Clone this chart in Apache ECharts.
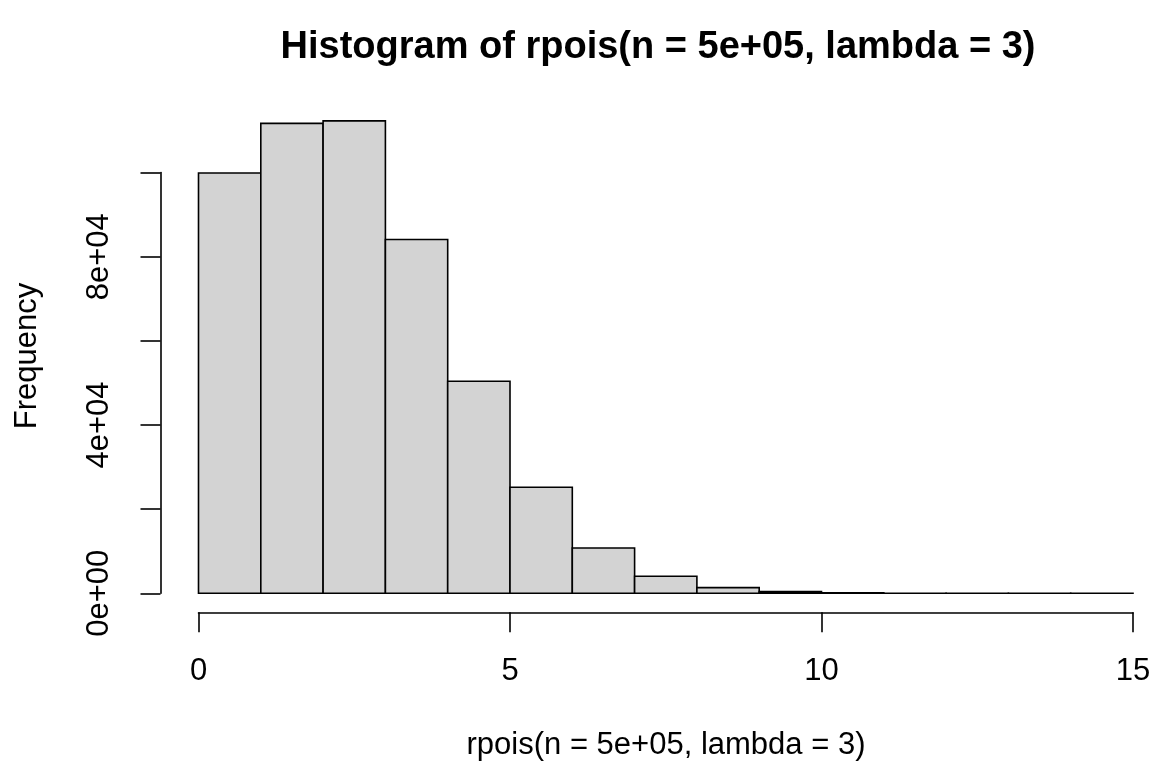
<!DOCTYPE html>
<html>
<head>
<meta charset="utf-8">
<script src="https://cdn.jsdelivr.net/npm/echarts@6/dist/echarts.min.js"></script>
<style>
html,body{margin:0;padding:0;background:#fff;}
#chart{width:1158px;height:767px;}
</style>
</head>
<body>
<div id="chart"></div>
<script>
// Histogram bins (break edges) and counts
var breaks = [0,1,2,3,4,5,6,7,8,9,10,11,12,13,14,15];
var counts = [99900, 111700, 112300, 84100, 50400, 25200, 10750, 4050, 1350, 410, 110, 28, 6, 1, 1];
var xTicks = [0, 5, 10, 15];
var yTickLabels = {0: '0e+00', 40000: '4e+04', 80000: '8e+04'};
var titleText = 'Histogram of rpois(n = 5e+05, lambda = 3)';
var xLabel = 'rpois(n = 5e+05, lambda = 3)';
var yLabel = 'Frequency';

var FONT = '"Liberation Sans", Arial, Helvetica, sans-serif';
var LW = 1.6;

var binData = counts.map(function(c, i){ return [breaks[i], breaks[i+1], c]; });

var chart = echarts.init(document.getElementById('chart'), null, {renderer:'canvas'});
chart.setOption({
  animation: false,
  backgroundColor: '#ffffff',
  grid: {left: 198.5, right: 25, top: 172.6, bottom: 173.7, containLabel: false},
  xAxis: {
    type: 'value', min: 0, max: 15, interval: 5,
    offset: 19,
    axisLine: {show: true, onZero: false, lineStyle: {color: '#000', width: LW}},
    axisTick: {show: true, length: 20, lineStyle: {color: '#000', width: LW}},
    axisLabel: {show: true, margin: 44, color: '#000', fontSize: 31, fontFamily: FONT},
    splitLine: {show: false}
  },
  yAxis: {
    type: 'value', min: 0, max: 100000, interval: 20000,
    offset: 38,
    axisLine: {show: true, onZero: false, lineStyle: {color: '#000', width: LW}},
    axisTick: {show: true, length: 20, lineStyle: {color: '#000', width: LW}},
    axisLabel: {
      show: true, rotate: 90, margin: 46, color: '#000', fontSize: 31, fontFamily: FONT,
      formatter: function(v){ return yTickLabels[v] !== undefined ? yTickLabels[v] : ''; }
    },
    splitLine: {show: false}
  },
  series: [{
    type: 'custom',
    clip: false,
    data: binData,
    renderItem: function(params, api){
      var p0 = api.coord([api.value(0), api.value(2)]);
      var p1 = api.coord([api.value(1), 0]);
      return {
        type: 'rect',
        shape: {x: p0[0], y: p0[1], width: p1[0] - p0[0], height: p1[1] - p0[1]},
        style: {fill: '#D3D3D3', stroke: '#000', lineWidth: LW}
      };
    }
  }],
  graphic: [
    {type: 'text', silent: true, x: 658, y: 48,
     style: {text: titleText, font: 'bold 38px ' + FONT, fill: '#000', align: 'center', verticalAlign: 'middle'}},
    {type: 'text', silent: true, x: 666, y: 745,
     style: {text: xLabel, font: '31px ' + FONT, fill: '#000', align: 'center', verticalAlign: 'middle'}},
    {type: 'text', silent: true, x: 27, y: 356, rotation: Math.PI/2,
     style: {text: yLabel, font: '31px ' + FONT, fill: '#000', align: 'center', verticalAlign: 'middle'}}
  ]
});
</script>
</body>
</html>
